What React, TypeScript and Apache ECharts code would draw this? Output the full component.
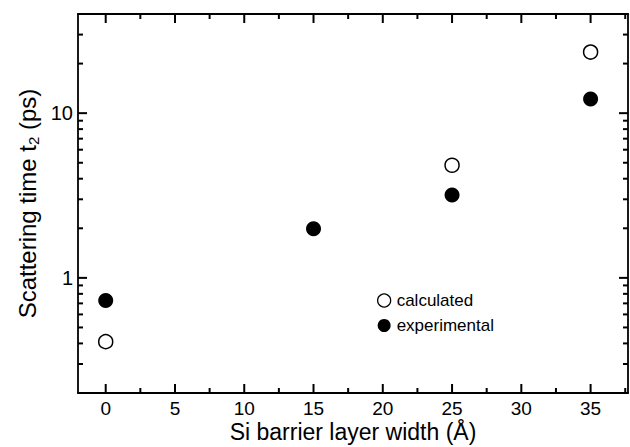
import React, { useEffect, useRef } from "react";
import * as echarts from "echarts";

const xCalculated = [0, 25, 35];
const yCalculated = [0.41, 4.83, 23.5];
const xExperimental = [0, 15, 25, 35];
const yExperimental = [0.73, 1.99, 3.18, 12.2];
const xMajorTicks = [0, 5, 10, 15, 20, 25, 30, 35];
const xMinorTicks = [2.5, 7.5, 12.5, 17.5, 22.5, 27.5, 32.5, 37.5];
const yMajorTicks = [1, 10];
const yMinorTicks = [0.3, 0.4, 0.5, 0.6, 0.7, 0.8, 0.9, 2, 3, 4, 5, 6, 7, 8, 9, 20, 30];
const X_MIN = -2;
const X_MAX = 37.7;
const Y_MIN = 0.2;
const Y_MAX = 40;

const FONT = "Liberation Sans";

export default function App() {
  const ref = useRef<HTMLDivElement>(null);
  useEffect(() => {
    if (!ref.current) return;
    const chart = echarts.init(ref.current, null, { renderer: "svg" });
    const lineStyle = { color: "#000", width: 1.8 };
    chart.setOption({
      animation: false,
      backgroundColor: "#fff",
      grid: { left: 78, right: 2, top: 14, bottom: 54, outerBoundsMode: "none", containLabel: false },
      legend: {
        orient: "vertical",
        left: 377,
        top: 292,
        padding: 0,
        itemGap: 8,
        itemWidth: 13,
        itemHeight: 13,
        textStyle: { fontSize: 17, fontFamily: FONT, color: "#000", padding: [0, 0, 0, 1] },
        data: [
          { name: "calculated", icon: "circle", itemStyle: { color: "#fff", borderColor: "#000", borderWidth: 1.3 } },
          { name: "experimental", icon: "circle", itemStyle: { color: "#000", borderColor: "#000", borderWidth: 0 } },
        ],
      },
      xAxis: [
        {
          type: "value",
          min: X_MIN,
          max: X_MAX,
          position: "bottom",
          axisLine: { show: true, onZero: false, lineStyle },
          axisTick: { show: false },
          axisLabel: {
            show: true,
            customValues: xMajorTicks,
            margin: 6,
            color: "#000",
            fontSize: 19,
            lineHeight: 19,
            fontFamily: FONT,
          },
          splitLine: { show: false },
          name: "Si barrier layer width (Å)",
          nameLocation: "middle",
          nameGap: 27,
          nameMoveOverlap: false,
          nameTextStyle: { fontSize: 23, lineHeight: 24, fontFamily: FONT, color: "#000" },
        },
        {
          type: "value",
          min: X_MIN,
          max: X_MAX,
          position: "top",
          axisLine: { show: true, onZero: false, lineStyle },
          axisTick: { show: false },
          axisLabel: { show: false },
          splitLine: { show: false },
        },
      ],
      yAxis: [
        {
          type: "log",
          min: Y_MIN,
          max: Y_MAX,
          logBase: 10,
          position: "left",
          axisLine: { show: true, onZero: false, lineStyle },
          axisTick: { show: false },
          minorTick: { show: false },
          axisLabel: { show: true, customValues: yMajorTicks, margin: 5, color: "#000", fontSize: 20, fontFamily: FONT },
          splitLine: { show: false },
          name: "Scattering time t{sub|2} (ps)",
          nameLocation: "middle",
          nameGap: 37,
          nameMoveOverlap: false,
          nameRotate: 90,
          nameTextStyle: {
            fontSize: 24,
            fontFamily: FONT,
            color: "#000",
            rich: { sub: { fontSize: 15, fontFamily: FONT, color: "#000", padding: [13, 0, 0, 0] } },
          },
        },
        {
          type: "log",
          min: Y_MIN,
          max: Y_MAX,
          logBase: 10,
          position: "right",
          axisLine: { show: true, onZero: false, lineStyle },
          axisTick: { show: false },
          minorTick: { show: false },
          axisLabel: { show: false },
          splitLine: { show: false },
        },
      ],
      series: [
        {
          name: "calculated",
          type: "scatter",
          symbol: "circle",
          symbolSize: 14,
          itemStyle: { color: "#fff", borderColor: "#000", borderWidth: 1.5, opacity: 1 },
          data: xCalculated.map((x, i) => [x, yCalculated[i]]),
        },
        {
          name: "experimental",
          type: "scatter",
          symbol: "circle",
          symbolSize: 15,
          itemStyle: { color: "#000", opacity: 1 },
          data: xExperimental.map((x, i) => [x, yExperimental[i]]),
        },
      ],
    });

    // Tick marks on all four sides, placed through the chart's own scales.
    const toX = (v: number) => chart.convertToPixel({ xAxisIndex: 0 }, v) as number;
    const toY = (v: number) => chart.convertToPixel({ yAxisIndex: 0 }, v) as number;
    const left = toX(X_MIN);
    const right = toX(X_MAX);
    const top = toY(Y_MAX);
    const bottom = toY(Y_MIN);
    const st = { stroke: "#000", lineWidth: 2 };
    const g: any[] = [];
    const addX = (v: number, len: number) => {
      const px = toX(v);
      g.push({ type: "line", z: 100, silent: true, shape: { x1: px, y1: bottom, x2: px, y2: bottom - len }, style: st });
      g.push({ type: "line", z: 100, silent: true, shape: { x1: px, y1: top, x2: px, y2: top + len }, style: st });
    };
    const addY = (v: number, len: number) => {
      const py = toY(v);
      g.push({ type: "line", z: 100, silent: true, shape: { x1: left, y1: py, x2: left + len, y2: py }, style: st });
      g.push({ type: "line", z: 100, silent: true, shape: { x1: right, y1: py, x2: right - len, y2: py }, style: st });
    };
    xMajorTicks.forEach((v) => addX(v, 9));
    xMinorTicks.forEach((v) => addX(v, 5));
    yMajorTicks.forEach((v) => addY(v, 9));
    yMinorTicks.forEach((v) => addY(v, 5));
    chart.setOption({ graphic: g });

    return () => chart.dispose();
  }, []);
  return <div ref={ref} style={{ width: 630, height: 447, position: "absolute", left: 0, top: 0 }} />;
}
